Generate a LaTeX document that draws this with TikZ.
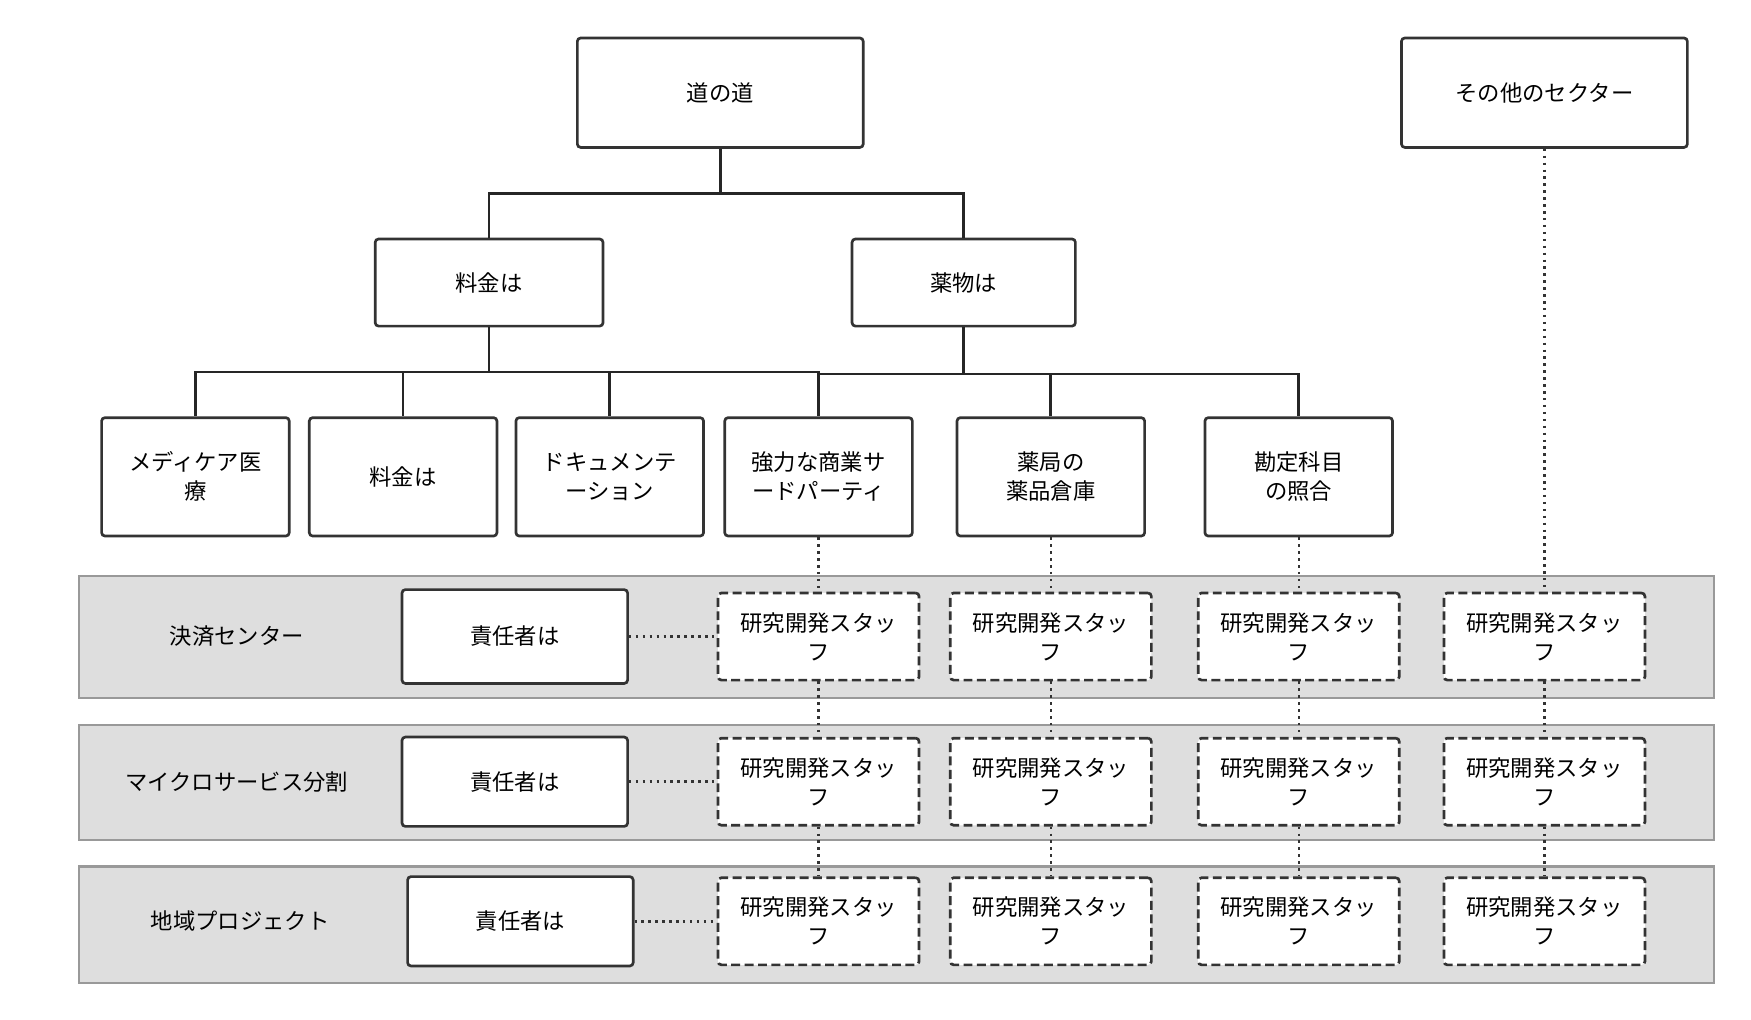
\documentclass[tikz,border=0pt]{standalone}
\usepackage{fontspec}
\setmainfont{Noto Sans CJK JP}
\begin{document}
\begin{tikzpicture}[x=0.5pt,y=-0.5pt,
 box/.style={draw=black!80,line width=1.2pt,rounded corners=1.5pt,fill=white,align=center,font=\fontsize{10}{13}\selectfont,inner sep=0pt},
 dbox/.style={box,dashed,dash pattern=on 4pt off 2pt},
 band/.style={draw=black!40,line width=1pt,fill=black!13},
 conn/.style={line width=1.2pt,draw=black!85},
 dot/.style={line width=1.1pt,draw=black!80,dotted}]
\useasboundingbox (0,0) rectangle (1568,912.5);
\draw[band] (71,516) rectangle (1535,625);
\draw[band] (71,649) rectangle (1535,752);
\draw[band] (71,776) rectangle (1535,880);
\node[font=\fontsize{10}{13}\selectfont] (l1) at (212,570) {決済センター};
\node[font=\fontsize{10}{13}\selectfont] (l2) at (212,700) {マイクロサービス分割};
\node[font=\fontsize{10}{13}\selectfont] (l3) at (215,825) {地域プロジェクト};
\node[box,minimum width=128pt,minimum height=49pt] (root) at (645,83) {道の道};
\node[box,minimum width=128pt,minimum height=49pt] (other) at (1383,83) {その他のセクター};
\node[box,minimum width=102pt,minimum height=39pt] (a) at (438,253) {料金は};
\node[box,minimum width=100pt,minimum height=39pt] (b) at (863,253) {薬物は};
\foreach \n/\x/\t in {c1/175/{メディケア医\\療},c2/361/{料金は},c3/546/{ドキュメンテ\\ーション},c4/733/{強力な商業サ\\ードパーティ},c5/941/{薬局の\\薬品倉庫},c6/1163/{勘定科目\\の照合}}
  \node[box,minimum width=84pt,minimum height=53pt] (\n) at (\x,427) {\t};
\draw[conn] (root.south) -- (645,173) -| (a.north);
\draw[conn] (645,173) -| (b.north);
\draw[conn] (a.south) -- (438,333);
\draw[conn] (b.south) -- (863,335);
\foreach \n in {c1,c2,c3,c4} \draw[conn] (438,333) -| (\n.north);
\foreach \n in {c4,c5,c6} \draw[conn] (863,335) -| (\n.north);
\node[box,minimum width=101pt,minimum height=42pt] (m1) at (461,570) {責任者は};
\node[box,minimum width=101pt,minimum height=40pt] (m2) at (461,700) {責任者は};
\node[box,minimum width=101pt,minimum height=40pt] (m3) at (466,825) {責任者は};
\foreach \r/\y in {1/570,2/700,3/825}
 \foreach \c/\x in {1/733,2/941,3/1163,4/1383}
  \node[dbox,minimum width=90pt,minimum height=39pt] (d\r\c) at (\x,\y) {研究開発スタッ\\フ};
\draw[dot] (c4.south) -- (d11.north);
\draw[dot] (c5.south) -- (d12.north);
\draw[dot] (c6.south) -- (d13.north);
\draw[dot] (other.south) -- (d14.north);
\foreach \c in {1,2,3,4}{
 \draw[dot] (d1\c.south) -- (d2\c.north);
 \draw[dot] (d2\c.south) -- (d3\c.north);}
\draw[dot] (m1.east) -- (d11.west);
\draw[dot] (m2.east) -- (d21.west);
\draw[dot] (m3.east) -- (d31.west);
\end{tikzpicture}
\end{document}
